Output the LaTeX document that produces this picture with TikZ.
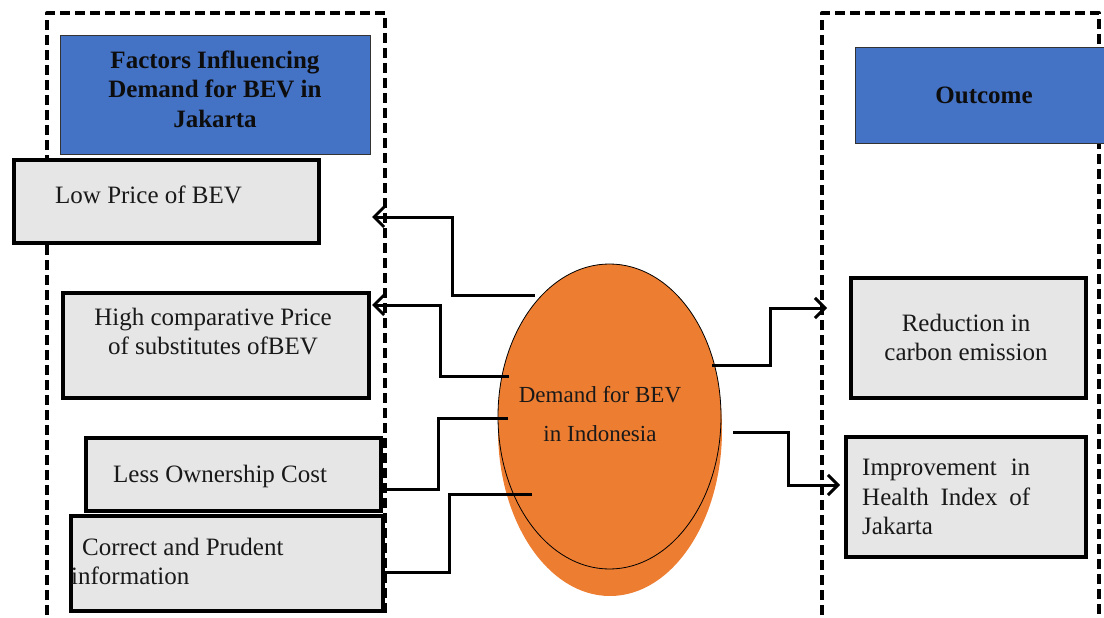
\documentclass[tikz,border=0pt]{standalone}
\usepackage{fontspec}
\setmainfont{Liberation Serif}
\usetikzlibrary{arrows.meta,shapes.geometric}
\definecolor{hdrblue}{HTML}{4472C4}
\definecolor{bevorange}{HTML}{ED7D31}
\definecolor{boxgray}{HTML}{E7E6E6}
\tikzset{
  frame/.style={line width=4pt, dash pattern=on 10pt off 5pt, line join=round},
  hdr/.style={draw=black!80, line width=1pt, fill=hdrblue, anchor=north west, inner sep=0pt},
  item/.style={draw=black, line width=4pt, fill=boxgray, anchor=north west, inner sep=0pt},
  lbl/.style={font=\fontsize{25}{29.5}\selectfont, inner sep=0pt, text=black!90},
  hdrlbl/.style={font=\fontsize{25}{29.5}\selectfont\bfseries, inner sep=0pt, text=black!95},
  link/.style={line width=3pt},
  arr/.style={link, -{Straight Barb[length=10pt,width=20pt]}},
}
\begin{document}
\begin{tikzpicture}[x=1pt,y=-1pt]
  \useasboundingbox (0,0) rectangle (1104,618);
  \clip (0,0) rectangle (1104,618);

  % dashed group frames, open at the bottom
  \draw[frame] (47,630) |- (385,13) -- (385,630);
  \draw[frame] (822,630) |- (1099,13) -- (1099,630);

  % headers
  \node[hdr, minimum width=310pt, minimum height=119pt] (facth) at (60,35) {};
  \node[hdr, minimum width=255pt, minimum height=96pt] (outh) at (855,47) {};
  \node[hdrlbl, align=center] (facttxt) at (215,89) {Factors Influencing\\Demand for BEV in\\Jakarta};
  \node[hdrlbl, anchor=base] (outtxt) at (984,103) {Outcome};

  % factor boxes
  \node[item, minimum width=305pt, minimum height=83pt] (low) at (12,158) {};
  \node[item, minimum width=306pt, minimum height=105pt] (high) at (61,291) {};
  \node[item, minimum width=295pt, minimum height=73pt] (less) at (84,436) {};
  \node[item, minimum width=312pt, minimum height=95pt] (info) at (69,514) {};
  \node[lbl, anchor=base west] (lowtxt) at (55,203) {Low Price of BEV};
  \node[lbl, align=center] (hightxt) at (213,331.5) {High comparative Price\\of substitutes ofBEV};
  \node[lbl, anchor=base west] (lesstxt) at (113,482) {Less Ownership Cost};
  \node[lbl, align=left, anchor=west] (infotxt) at (71,561.5) {\hspace*{11pt}Correct and Prudent\\information};

  % outcome boxes
  \node[item, minimum width=235pt, minimum height=120pt] (red) at (849,276) {};
  \node[item, minimum width=240pt, minimum height=120pt] (imp) at (844,435) {};
  \node[lbl, align=center] (redtxt) at (966,337.5) {Reduction in\\carbon emission};
  \node[lbl, text width=168pt, align=justify, anchor=west] (imptxt) at (862,497)
    {Improvement in\linebreak Health Index of\linebreak Jakarta};

  % central demand ellipse
  \fill[bevorange] (610,430) ellipse [x radius=112pt, y radius=166pt];
  \node[ellipse, draw, line width=0.8pt, fill=bevorange, minimum width=223pt,
        minimum height=305pt, inner sep=0pt] (dem) at (609.5,416.5) {};
  \node[lbl, font=\fontsize{23}{39}\selectfont, align=center] (demtxt) at (600,414)
    {Demand for BEV\\in Indonesia};

  % connector end points
  \coordinate (s1) at (535,295); \coordinate (e1) at (372,217);
  \coordinate (s2) at (509,376); \coordinate (e2) at (372,305);
  \coordinate (s3) at (508,418); \coordinate (e3) at (380,489);
  \coordinate (s4) at (532,494); \coordinate (e4) at (382,572);
  \coordinate (s5) at (712,365); \coordinate (e5) at (827,308);
  \coordinate (s6) at (733,432); \coordinate (e6) at (840,485);

  % connectors
  \draw[arr]  (s1) -- ++(-83,0) |- (e1);
  \draw[arr]  (s2) -- ++(-69,0) |- (e2);
  \draw[link] (s3) -- ++(-70,0) |- (e3);
  \draw[link] (s4) -- ++(-83,0) |- (e4);
  \draw[arr]  (s5) -- ++(58,0) |- (e5);
  \draw[arr]  (s6) -- ++(55,0) |- (e6);
\end{tikzpicture}
\end{document}
